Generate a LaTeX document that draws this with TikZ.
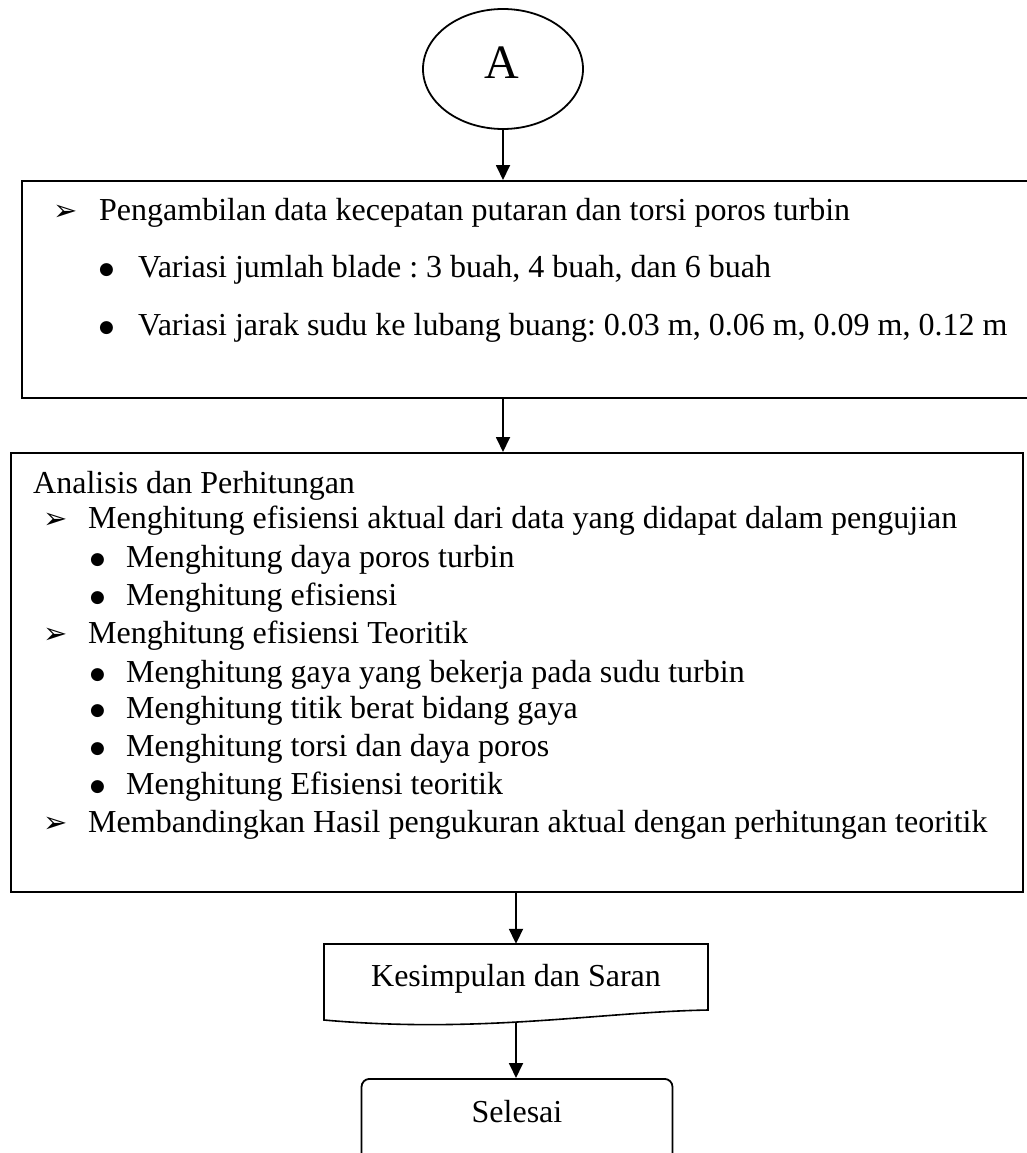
\documentclass[tikz,border=0pt]{standalone}
\usepackage{fontspec}
\setmainfont{Liberation Serif}
\newfontfamily\symfont{DejaVu Sans}
\usetikzlibrary{arrows.meta,shapes.geometric}

\newcommand{\pointer}{{\symfont\fontsize{29}{30}\selectfont ➢}}
\newcommand{\dotmark}{\raisebox{3pt}{\symfont\fontsize{17}{18}\selectfont ●}}

\tikzset{
  arr/.style={line width=1.8pt,-{Triangle[length=15pt,width=14pt]}},
  frame/.style={draw,line width=2pt,rectangle,inner sep=0pt},
  txt/.style={anchor=base west,inner sep=0pt,font=\fontsize{32}{38}\selectfont\frenchspacing},
  mid/.style={anchor=base,inner sep=0pt,font=\fontsize{32}{38}\selectfont},
}

\begin{document}
\begin{tikzpicture}[x=1pt,y=-1pt]
\useasboundingbox (0,0) rectangle (1026,1153);

% start connector
\node[draw,ellipse,line width=1.8pt,minimum width=160pt,minimum height=120pt] (A) at (503,69) {};
\node[mid,font=\fontsize{48}{50}\selectfont] (Atext) at (502,79) {A};

% data collection
\node[frame,minimum width=1030pt,minimum height=217pt,anchor=north west] (b1) at (21,180) {};
\node[txt] (p1) at (53,220) {\pointer};
\node[txt] (t1) at (99,220) {Pengambilan data kecepatan putaran dan torsi poros turbin};
\node[txt] (d1) at (99,277) {\dotmark};
\node[txt] (t2) at (138,277) {Variasi jumlah blade : 3 buah, 4 buah, dan 6 buah};
\node[txt] (d2) at (99,335) {\dotmark};
\node[txt] (t3) at (138,335) {Variasi jarak sudu ke lubang buang: 0.03 m, 0.06 m, 0.09 m, 0.12 m};

% analysis
\node[frame,minimum width=1012pt,minimum height=439pt,anchor=north west] (b2) at (10,452) {};
\node[txt] (h2) at (33,493) {Analisis dan Perhitungan};
\node[txt] (p2) at (43,528) {\pointer};
\node[txt] (s1) at (88,528) {Menghitung efisiensi aktual dari data yang didapat dalam pengujian};
\node[txt] (d3) at (90,567) {\dotmark};
\node[txt] (s2) at (126,567) {Menghitung daya poros turbin};
\node[txt] (d4) at (90,605) {\dotmark};
\node[txt] (s3) at (126,605) {Menghitung efisiensi};
\node[txt] (p3) at (43,643) {\pointer};
\node[txt] (s4) at (88,643) {Menghitung efisiensi Teoritik};
\node[txt] (d5) at (90,682) {\dotmark};
\node[txt] (s5) at (126,682) {Menghitung gaya yang bekerja pada sudu turbin};
\node[txt] (d6) at (90,718) {\dotmark};
\node[txt] (s6) at (126,718) {Menghitung titik berat bidang gaya};
\node[txt] (d7) at (90,756) {\dotmark};
\node[txt] (s7) at (126,756) {Menghitung torsi dan daya poros};
\node[txt] (d8) at (90,794) {\dotmark};
\node[txt] (s8) at (126,794) {Menghitung Efisiensi teoritik};
\node[txt] (p4) at (43,832) {\pointer};
\node[txt] (s9) at (88,832) {Membandingkan Hasil pengukuran aktual dengan perhitungan teoritik};

% conclusion (document shape)
\node[minimum width=384pt,minimum height=78pt,inner sep=0pt] (doc) at (516,983) {};
\draw[line width=1.6pt] (324,944) -- (708,944) -- (708,1010)
  .. controls (600,1012) and (480,1034) .. (324,1020) -- cycle;
\node[mid] (doctext) at (516,986) {Kesimpulan dan Saran};

% end
\node[frame,line width=1.8pt,rounded corners=8pt,minimum width=311pt,minimum height=110pt,anchor=north] (end) at (517,1078) {};
\node[mid] (endtext) at (517,1122) {Selesai};

% connectors
\draw[arr] (A) -- (A |- b1.north);
\draw[arr] (b1.south -| A) -- (b2.north -| A);
\draw[arr] (b2.south -| doc) -- (doc.north);
\draw[arr] (doc.south) -- (doc.south |- end.north);
\end{tikzpicture}
\end{document}
